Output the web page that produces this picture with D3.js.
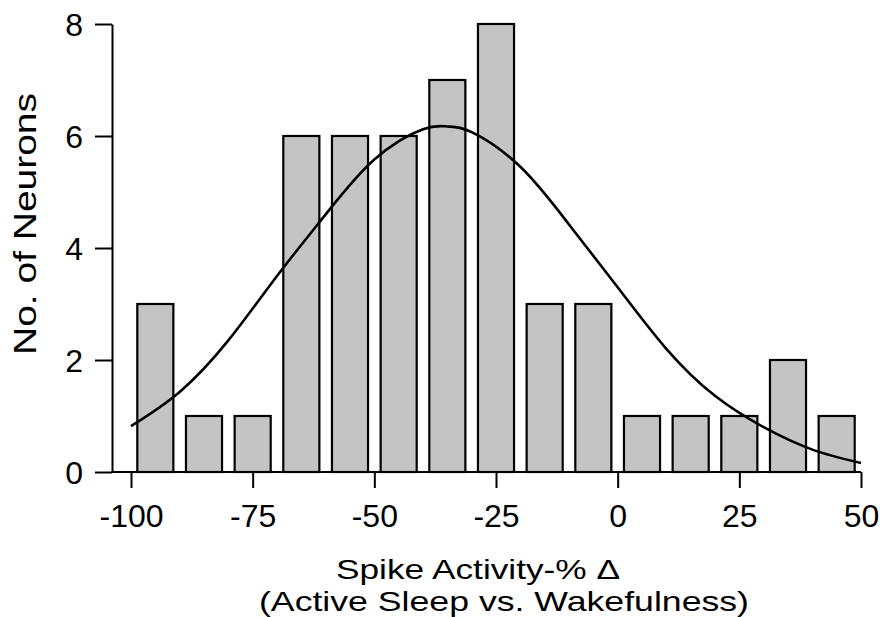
<!DOCTYPE html>
<html><head><meta charset="utf-8">
<title>Spike activity histogram</title>
<script src="https://cdn.jsdelivr.net/npm/d3@7"></script>
<style>
  body { margin: 0; background: #fff; }
  svg { display: block; font-family: "Liberation Sans", Arial, Helvetica, sans-serif; }
  .axis path, .axis line { stroke: #000; stroke-width: 2px; }
  .axis text { font-size: 32px; fill: #000; font-family: "Liberation Sans", Arial, sans-serif; }
  .bar { fill: #c4c4c4; stroke: #000; stroke-width: 2.2px; }
  .fit { fill: none; stroke: #000; stroke-width: 2.6px; }
</style>
</head>
<body>
<svg width="883" height="617"></svg>
<script>
// histogram bins (left edge, % change) and counts
var binStarts = [-100, -90, -80, -70, -60, -50, -40, -30, -20, -10, 0, 10, 20, 30, 40];
var counts    = [3, 1, 1, 6, 6, 6, 7, 8, 3, 3, 1, 1, 1, 2, 1];
var binWidth = 10;

// fitted curve
var curveX = [-100, -90, -80, -70, -60, -50, -40, -35, -30, -20, -10, 0, 10, 20, 30, 40, 50];
var curveY = [0.82, 1.43, 2.35, 3.5, 4.6, 5.58, 6.12, 6.17, 6.07, 5.45, 4.42, 3.3, 2.2, 1.36, 0.8, 0.4, 0.16];

var xTicks = [-100, -75, -50, -25, 0, 25, 50];
var yTicks = [0, 2, 4, 6, 8];

var svg = d3.select("svg");

var x = d3.scaleLinear().domain([-100, 50]).range([131, 861]);
var y = d3.scaleLinear().domain([0, 8]).range([472, 24]);
var axisX = 112;
var plainNum = function(d){ return String(d); }; // hyphen, not unicode minus

//begin: bars
var barPad = 6.3;
svg.append("g").selectAll("rect")
  .data(binStarts)
  .enter().append("rect")
    .attr("class", "bar")
    .attr("x", function(d){ return x(d) + barPad; })
    .attr("width", function(d){ return x(d + binWidth) - x(d) - 2*barPad; })
    .attr("y", function(d, i){ return y(counts[i]); })
    .attr("height", function(d, i){ return y(0) - y(counts[i]); });
//end: bars

//begin: axes
svg.append("g")
  .attr("class", "axis")
  .attr("transform", "translate(" + axisX + ",0)")
  .call(d3.axisLeft(y).tickValues(yTicks).tickFormat(plainNum).tickSize(17).tickSizeOuter(0).tickPadding(12))
  .call(function(g){ g.selectAll("text").attr("dy", "0.36em"); });

var gx = svg.append("g")
  .attr("class", "axis")
  .attr("transform", "translate(0," + y(0) + ")")
  .call(d3.axisBottom(x).tickValues(xTicks).tickFormat(plainNum).tickSize(16).tickSizeOuter(0).tickPadding(16));
gx.select(".domain").remove();
gx.append("line")
  .attr("x1", axisX).attr("x2", x(50))
  .attr("y1", 0).attr("y2", 0);
gx.selectAll("text").attr("dy", "0.71em");
//end: axes

//begin: fitted curve
var line = d3.line()
  .x(function(d){ return x(d[0]); })
  .y(function(d){ return y(d[1]); })
  .curve(d3.curveNatural);
svg.append("path")
  .attr("class", "fit")
  .attr("d", line(d3.zip(curveX, curveY)));
//end: fitted curve

//begin: titles
svg.append("text")
  .attr("transform", "translate(36,224) rotate(-90)")
  .attr("text-anchor", "middle")
  .attr("font-size", 32)
  .attr("textLength", 262)
  .attr("lengthAdjust", "spacingAndGlyphs")
  .text("No. of Neurons");

svg.append("text")
  .attr("x", 478).attr("y", 579)
  .attr("text-anchor", "middle")
  .attr("font-size", 28)
  .attr("textLength", 284)
  .attr("lengthAdjust", "spacingAndGlyphs")
  .text("Spike Activity-% \u0394");

svg.append("text")
  .attr("x", 504).attr("y", 611)
  .attr("text-anchor", "middle")
  .attr("font-size", 28)
  .attr("textLength", 490)
  .attr("lengthAdjust", "spacingAndGlyphs")
  .text("(Active Sleep vs. Wakefulness)");
//end: titles
</script>
</body></html>
